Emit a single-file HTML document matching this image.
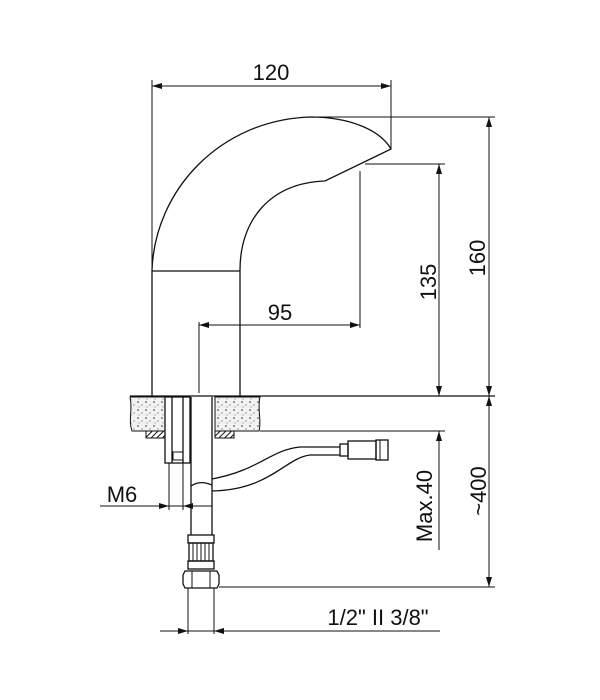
<!DOCTYPE html>
<html><head><meta charset="utf-8"><style>
html,body{margin:0;padding:0;background:#fff}
svg{display:block}
text{font-family:"Liberation Sans",Arial,sans-serif;font-size:22px;fill:#111}
</style></head><body>
<svg width="600" height="700" viewBox="0 0 600 700" xmlns="http://www.w3.org/2000/svg">
<defs>
<marker id="a" viewBox="0 0 10 6" refX="10" refY="3" markerWidth="10" markerHeight="6" orient="auto-start-reverse" markerUnits="userSpaceOnUse"><path d="M0,0 L10,3 L0,6 z" fill="#111"/></marker>
<pattern id="g" width="8" height="8" patternUnits="userSpaceOnUse"><rect width="8" height="8" fill="#f2f2f2"/><circle cx="2" cy="2" r="0.8" fill="#333"/><circle cx="6" cy="5" r="0.6" fill="#555"/><circle cx="3" cy="7" r="0.5" fill="#444"/></pattern>
<pattern id="h" width="4" height="4" patternUnits="userSpaceOnUse" patternTransform="rotate(45)"><rect width="4" height="4" fill="#fff"/><line x1="0" y1="0" x2="0" y2="4" stroke="#111" stroke-width="2"/></pattern>
</defs>
<g fill="none" stroke="#111" stroke-width="1.3">
<path d="M152,396 L152,270 C155,190 220,120 310,117 C350,117 380,130 391,149 L325,181 C270,183 240,220 240,270 L240,396"/>
<line x1="152" y1="271" x2="240" y2="271"/>
<line x1="130" y1="396" x2="495" y2="396"/>
<line x1="152" y1="80" x2="152" y2="270" stroke-width="1"/>
<line x1="391" y1="80" x2="391" y2="149" stroke-width="1"/>
<line x1="152" y1="86" x2="391" y2="86" stroke-width="1" marker-start="url(#a)" marker-end="url(#a)"/>
<line x1="360" y1="171" x2="360" y2="328" stroke-width="1"/>
<line x1="199" y1="322" x2="199" y2="393" stroke-width="1"/>
<line x1="199" y1="325" x2="360" y2="325" stroke-width="1" marker-start="url(#a)" marker-end="url(#a)"/>
<line x1="365" y1="164" x2="445" y2="164" stroke-width="1"/>
<line x1="439" y1="164" x2="439" y2="396" stroke-width="1" marker-start="url(#a)" marker-end="url(#a)"/>
<line x1="310" y1="117" x2="495" y2="117" stroke-width="1"/>
<line x1="489" y1="117" x2="489" y2="396" stroke-width="1" marker-start="url(#a)" marker-end="url(#a)"/>
<path d="M130,397 L167,397 L167,431 L132,431 C128,420 133,410 130,397 Z" fill="url(#g)" stroke-width="1"/>
<path d="M215,397 L260,397 C257,410 262,420 259,431 L215,431 Z" fill="url(#g)" stroke-width="1"/>
<line x1="260" y1="431" x2="445" y2="431" stroke-width="1"/>
<rect x="146" y="431" width="21" height="7" fill="url(#h)" stroke-width="1"/>
<rect x="215" y="431" width="19" height="7" fill="url(#h)" stroke-width="1"/>
<rect x="165" y="397" width="25" height="66" fill="#fff"/>
<line x1="172" y1="397" x2="172" y2="463"/>
<line x1="183" y1="397" x2="183" y2="463"/>
<rect x="173" y="452" width="10" height="8" stroke-width="1"/>
<line x1="169" y1="463" x2="169" y2="510" stroke-width="1"/>
<line x1="183" y1="463" x2="183" y2="510" stroke-width="1"/>
<line x1="191" y1="397" x2="191" y2="535"/>
<line x1="212" y1="397" x2="212" y2="535"/>
<path d="M191,486 C198,481 205,482 212,485"/>
<path d="M212,479 C260,470 270,450 300,447 L340,447"/>
<path d="M212,491 C270,490 285,458 310,455 L340,455"/>
<rect x="340" y="444" width="8" height="12"/>
<rect x="348" y="441" width="28" height="18"/>
<rect x="376" y="440" width="12" height="20"/>
<line x1="380" y1="440" x2="380" y2="460" stroke-width="1"/>
<line x1="100" y1="506" x2="212" y2="506" stroke-width="1"/>
<line x1="150" y1="506" x2="169" y2="506" stroke-width="1" marker-end="url(#a)"/>
<line x1="200" y1="506" x2="183" y2="506" stroke-width="1" marker-end="url(#a)"/>
<rect x="188" y="535" width="26" height="8"/>
<rect x="189" y="543" width="24" height="18"/>
<line x1="193" y1="543" x2="193" y2="561" stroke-width="1"/>
<line x1="197" y1="543" x2="197" y2="561" stroke-width="1"/>
<line x1="201" y1="543" x2="201" y2="561" stroke-width="1"/>
<line x1="205" y1="543" x2="205" y2="561" stroke-width="1"/>
<line x1="209" y1="543" x2="209" y2="561" stroke-width="1"/>
<rect x="188" y="561" width="26" height="8"/>
<path d="M185,571 L217,571 L219,575 L219,584 L217,588 L185,588 L183,584 L183,575 Z"/>
<line x1="192" y1="571" x2="192" y2="588" stroke-width="1"/>
<line x1="210" y1="571" x2="210" y2="588" stroke-width="1"/>
<line x1="219" y1="587" x2="495" y2="587" stroke-width="1"/>
<line x1="188" y1="588" x2="188" y2="634" stroke-width="1"/>
<line x1="214" y1="588" x2="214" y2="634" stroke-width="1"/>
<line x1="160" y1="631" x2="440" y2="631" stroke-width="1"/>
<line x1="170" y1="631" x2="188" y2="631" stroke-width="1" marker-end="url(#a)"/>
<line x1="232" y1="631" x2="214" y2="631" stroke-width="1" marker-end="url(#a)"/>
<line x1="439" y1="431" x2="439" y2="550" stroke-width="1" marker-start="url(#a)"/>
<line x1="489" y1="396" x2="489" y2="587" stroke-width="1" marker-start="url(#a)" marker-end="url(#a)"/>
</g>
<text x="271" y="80" text-anchor="middle">120</text>
<text x="280" y="320" text-anchor="middle">95</text>
<text x="122" y="502" text-anchor="middle">M6</text>
<text x="378" y="625" text-anchor="middle">1/2" II 3/8"</text>
<text transform="translate(436,282) rotate(-90)" text-anchor="middle">135</text>
<text transform="translate(485,258) rotate(-90)" text-anchor="middle">160</text>
<text transform="translate(432,506) rotate(-90)" text-anchor="middle">Max.40</text>
<text transform="translate(486,491) rotate(-90)" text-anchor="middle">~400</text>
</svg>
</body></html>
